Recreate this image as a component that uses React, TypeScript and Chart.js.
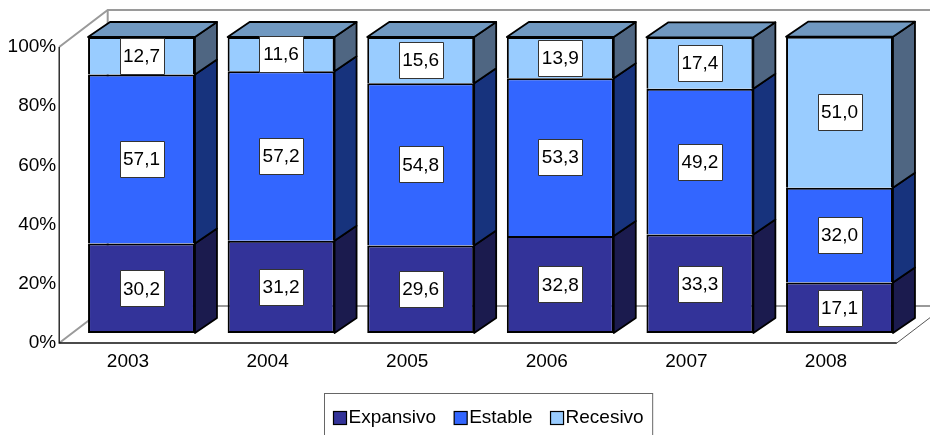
import React, { useEffect, useRef } from 'react';
import { Chart, registerables } from 'chart.js';

Chart.register(...registerables);

const categories = ['2003', '2004', '2005', '2006', '2007', '2008'];
const expansivo = [30.2, 31.2, 29.6, 32.8, 33.3, 17.1];
const estable = [57.1, 57.2, 54.8, 53.3, 49.2, 32.0];
const recesivo = [12.7, 11.6, 15.6, 13.9, 17.4, 51.0];
const yTickValues = [0, 20, 40, 60, 80, 100];
const seriesNames = ['Expansivo', 'Estable', 'Recesivo'];

const FONT = '"Liberation Sans", Arial, Helvetica, sans-serif';
const FONT_SIZE = 19;
const frontColors = ['#333399', '#3366FF', '#99CCFF'];
const sideColors = ['#1B1B4E', '#17337D', '#4F6682'];
const topColor = '#7098C0';
const DEPTH = { dx: 22, dy: -15 };
const FRONT = { dx: -12.5, dy: 10 };
const BACK = { dx: 36, dy: -27 };

const fmt = (v: number) => v.toFixed(1).replace('.', ',');

const threeDPlugin = {
  id: 'threeD',
  beforeDatasetsDraw(chart: any) {
    const { ctx, chartArea: a, scales } = chart;
    const y = scales.y;
    const x = scales.x;
    const top = y.getPixelForValue(100);
    const bot = y.getPixelForValue(0);
    const fl = a.left + FRONT.dx;
    const bl = a.left + BACK.dx;
    ctx.save();
    ctx.strokeStyle = '#9a9a9a';
    ctx.lineWidth = 2;
    ctx.beginPath();
    ctx.moveTo(fl, top + FRONT.dy);
    ctx.lineTo(bl, top + BACK.dy);
    ctx.lineTo(chart.width, top + BACK.dy);
    ctx.moveTo(bl, top + BACK.dy);
    ctx.lineTo(bl, bot + BACK.dy);
    ctx.lineTo(chart.width, bot + BACK.dy);
    ctx.moveTo(fl, bot + FRONT.dy);
    ctx.lineTo(bl, bot + BACK.dy);
    ctx.stroke();
    ctx.strokeStyle = '#555';
    ctx.lineWidth = 1;
    ctx.beginPath();
    ctx.moveTo(a.right + FRONT.dx, bot + FRONT.dy);
    ctx.lineTo(a.right + BACK.dx, bot + BACK.dy);
    ctx.stroke();
    ctx.strokeStyle = '#111';
    ctx.lineWidth = 1.3;
    ctx.beginPath();
    ctx.moveTo(fl, top + FRONT.dy);
    ctx.lineTo(fl, bot + FRONT.dy);
    ctx.lineTo(a.right + FRONT.dx, bot + FRONT.dy);
    ctx.stroke();
    ctx.fillStyle = '#000';
    ctx.font = `${FONT_SIZE}px ${FONT}`;
    ctx.textAlign = 'right';
    ctx.textBaseline = 'middle';
    yTickValues.forEach((v) => {
      ctx.fillText(`${v}%`, fl - 3, y.getPixelForValue(v) + FRONT.dy);
    });
    ctx.textAlign = 'center';
    categories.forEach((c, i) => {
      ctx.fillText(c, x.getPixelForValue(i) + FRONT.dx - 1, bot + FRONT.dy + 19);
    });
    ctx.restore();
  },
  afterDatasetsDraw(chart: any) {
    const { ctx } = chart;
    const n = chart.data.datasets.length;
    ctx.save();
    ctx.strokeStyle = '#000';
    ctx.lineWidth = 1.8;
    ctx.lineJoin = 'round';
    for (let d = 0; d < n; d++) {
      const meta = chart.getDatasetMeta(d);
      meta.data.forEach((el: any) => {
        const p = el.getProps(['x', 'y', 'base', 'width'], true);
        const xl = p.x - p.width / 2;
        const xr = p.x + p.width / 2;
        const t = Math.min(p.y, p.base);
        const b = Math.max(p.y, p.base);
        ctx.fillStyle = sideColors[d];
        ctx.beginPath();
        ctx.moveTo(xr, t);
        ctx.lineTo(xr + DEPTH.dx, t + DEPTH.dy);
        ctx.lineTo(xr + DEPTH.dx, b + DEPTH.dy);
        ctx.lineTo(xr, b);
        ctx.closePath();
        ctx.fill();
        ctx.stroke();
        if (d === n - 1) {
          ctx.fillStyle = topColor;
          ctx.beginPath();
          ctx.moveTo(xl, t);
          ctx.lineTo(xl + DEPTH.dx, t + DEPTH.dy);
          ctx.lineTo(xr + DEPTH.dx, t + DEPTH.dy);
          ctx.lineTo(xr, t);
          ctx.closePath();
          ctx.fill();
          ctx.stroke();
        }
      });
    }
    ctx.font = `${FONT_SIZE}px ${FONT}`;
    ctx.textAlign = 'center';
    ctx.textBaseline = 'middle';
    for (let d = 0; d < n; d++) {
      const meta = chart.getDatasetMeta(d);
      const values = chart.data.datasets[d].data as number[];
      meta.data.forEach((el: any, i: number) => {
        const p = el.getProps(['x', 'y', 'base'], true);
        const cy = (p.y + p.base) / 2;
        const w = 44;
        const h = 36;
        const bx = Math.round(p.x - w / 2) + 0.5;
        const by = Math.round(cy - h / 2) + 0.5;
        ctx.fillStyle = '#fff';
        ctx.fillRect(bx, by, w, h);
        ctx.strokeStyle = '#333';
        ctx.lineWidth = 1;
        ctx.strokeRect(bx, by, w, h);
        ctx.fillStyle = '#000';
        ctx.fillText(fmt(values[i]), p.x, cy + 1);
      });
    }
    ctx.restore();
  },
  afterDraw(chart: any) {
    const { ctx, chartArea: a } = chart;
    ctx.save();
    ctx.font = `${FONT_SIZE}px ${FONT}`;
    const sq = 13;
    const gapAfterSq = 2;
    const spacing = 18;
    const pad = 9;
    const widths = seriesNames.map((s) => ctx.measureText(s).width);
    const total = widths.reduce((s, w) => s + sq + gapAfterSq + w, 0) + spacing * (seriesNames.length - 1);
    const boxW = total + pad * 2;
    const cx = (a.left + a.right) / 2 - 2;
    const boxL = Math.round(cx - boxW / 2) + 0.5;
    const boxT = 393.5;
    ctx.strokeStyle = '#666';
    ctx.lineWidth = 1;
    ctx.strokeRect(boxL, boxT, boxW, 60);
    let xPos = boxL + pad;
    const cyL = 418;
    ctx.textAlign = 'left';
    ctx.textBaseline = 'middle';
    seriesNames.forEach((s, i) => {
      ctx.fillStyle = frontColors[i];
      ctx.fillRect(xPos, cyL - sq / 2, sq, sq);
      ctx.strokeStyle = '#000';
      ctx.lineWidth = 1.2;
      ctx.strokeRect(xPos, cyL - sq / 2, sq, sq);
      ctx.fillStyle = '#000';
      ctx.fillText(s, xPos + sq + gapAfterSq, cyL);
      xPos += sq + gapAfterSq + widths[i] + spacing;
    });
    ctx.restore();
  },
};

export default function App() {
  const ref = useRef<HTMLCanvasElement | null>(null);
  useEffect(() => {
    if (!ref.current) return;
    const series = [expansivo, estable, recesivo];
    const chart = new Chart(ref.current, {
      type: 'bar',
      data: {
        labels: categories,
        datasets: series.map((data, i) => ({
          label: seriesNames[i],
          data,
          backgroundColor: frontColors[i],
          borderColor: '#000',
          borderWidth: 2,
          borderSkipped: i === 0 ? false : 'start',
          barPercentage: 0.766,
          categoryPercentage: 1,
          clip: false as any,
        })),
      },
      options: {
        responsive: false,
        animation: false,
        layout: { padding: { left: 71.7, right: 20.7, top: 37, bottom: 102 } },
        scales: {
          x: { stacked: true, display: false },
          y: { stacked: true, display: false, min: 0, max: 100 },
        },
        plugins: {
          legend: { display: false },
          tooltip: { enabled: false },
        },
      },
      plugins: [threeDPlugin],
    });
    return () => chart.destroy();
  }, []);
  return (
    <div style={{ position: 'absolute', left: 0, top: 0, width: 930, height: 435, background: '#fff' }}>
      <canvas ref={ref} width={930} height={435} />
    </div>
  );
}
